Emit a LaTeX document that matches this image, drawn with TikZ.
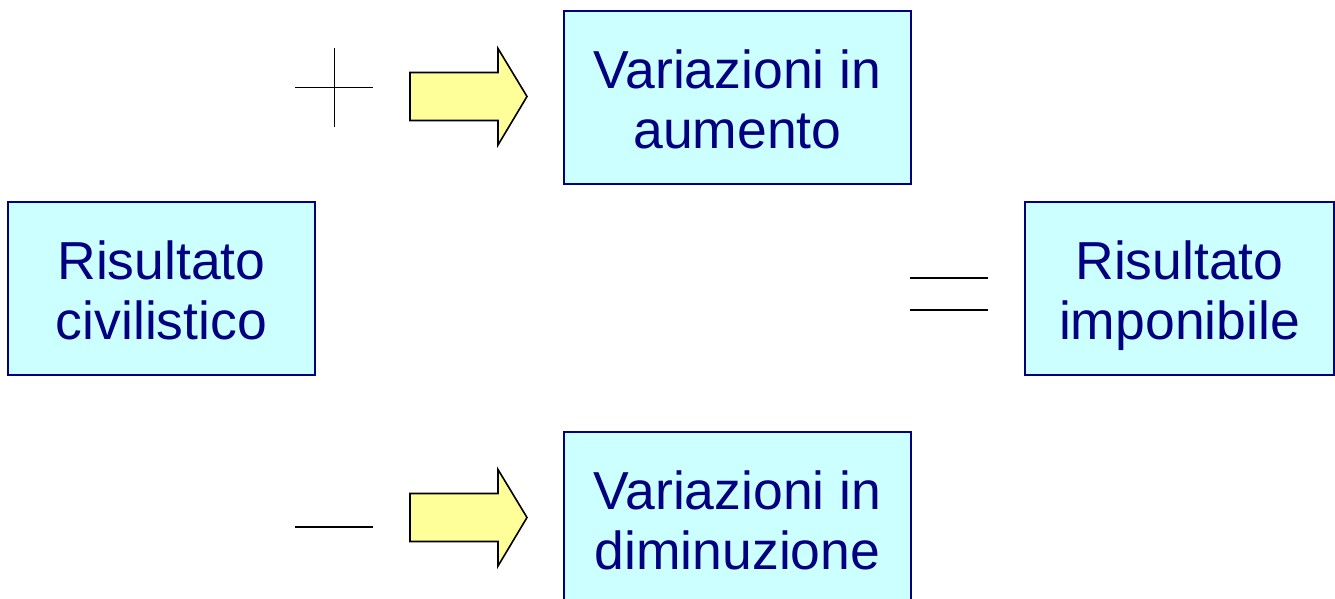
\documentclass[tikz,border=0pt]{standalone}
\usepackage{fontspec}
\setmainfont{Liberation Sans}
\definecolor{boxfill}{HTML}{CCFFFF}
\definecolor{navy}{HTML}{000080}
\definecolor{arrowfill}{HTML}{FFFF99}
\begin{document}
\begin{tikzpicture}[x=1pt,y=-1pt,
  textbox/.style={draw=navy,fill=boxfill,line width=1.6pt,text=navy,
    minimum height=173pt,align=center,inner sep=0pt,
    text height=101.6pt,text depth=0pt,
    font=\fontsize{53.5}{60}\selectfont},
  blockarrow/.style={draw=black,fill=arrowfill,line width=1.6pt,line join=miter},
  sign/.style={draw=black,line width=1.4pt}]
\useasboundingbox (0,0) rectangle (1335,598);
\clip (0,0) rectangle (1335,598);
\node[textbox,minimum width=347pt] (aum) at (737.5,97.5) {Variazioni in\\aumento};
\node[textbox,minimum width=307pt] (civ) at (161.5,288.5) {Risultato\\civilistico};
\node[textbox,minimum width=309pt] (imp) at (1179.5,288.5) {Risultato\\imponibile};
\node[textbox,minimum width=347pt] (dim) at (737.5,518.5) {Variazioni in\\diminuzione};
% plus
\draw[sign] (295,87.5) -- (373,87.5);
\draw[sign] (334.5,48) -- (334.5,126.5);
% minus
\draw[sign] (295,527) -- (373,527);
% equals
\draw[sign] (910,278) -- (988,278);
\draw[sign] (910,310) -- (988,310);
% arrows
\draw[blockarrow] (410,72.5) -- (498,72.5) -- (498,48.5) -- (527,96.5) -- (498,145) -- (498,120.5) -- (410,120.5) -- cycle;
\draw[blockarrow] (410,493.5) -- (498,493.5) -- (498,469.5) -- (527,517.5) -- (498,566) -- (498,541.5) -- (410,541.5) -- cycle;
\end{tikzpicture}
\end{document}
